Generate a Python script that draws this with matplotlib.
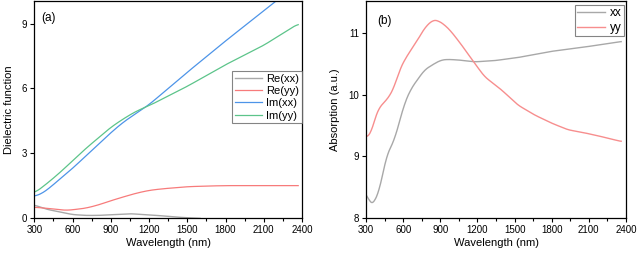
import matplotlib
matplotlib.use("Agg")
import matplotlib.pyplot as plt
import numpy as np

plt.rcParams['font.family'] = ['Liberation Sans', 'DejaVu Sans']

# Panel (a): dielectric function
wl_a = [300, 400, 500, 600, 700, 800, 900, 1000, 1050, 1100, 1200, 1300, 1400, 1500, 1560, 1600]
re_xx = [0.6, 0.4, 0.28, 0.16, 0.12, 0.12, 0.15, 0.18, 0.2, 0.18, 0.15, 0.1, 0.05, 0.01, 0.0, -0.02]

wl_ryy = [300, 400, 550, 700, 800, 900, 1000, 1100, 1200, 1300, 1400, 1500, 1650, 1800, 2100, 2370]
re_yy = [0.5, 0.45, 0.35, 0.45, 0.6, 0.8, 0.98, 1.15, 1.28, 1.35, 1.4, 1.45, 1.48, 1.5, 1.5, 1.5]

wl_im = [300, 350, 400, 500, 600, 700, 800, 900, 1000, 1100, 1200, 1500, 1800, 2100, 2400]
im_xx = [1.0, 1.1, 1.3, 1.8, 2.3, 2.85, 3.4, 3.95, 4.45, 4.85, 5.25, 6.75, 8.2, 9.6, 11.0]
wl_imyy = [300, 400, 500, 600, 700, 800, 900, 1000, 1100, 1200, 1500, 1800, 2100, 2370]
im_yy = [1.15, 1.6, 2.1, 2.65, 3.2, 3.7, 4.2, 4.6, 4.95, 5.2, 6.1, 7.1, 8.0, 9.0]

# Panel (b): absorption
wl_bxx = [300, 320, 335, 360, 408, 462, 529, 610, 664, 772, 850, 907, 961, 1050, 1176, 1338, 1527, 1796, 2066, 2362]
abs_xx = [8.43, 8.28, 8.2, 8.24, 8.45, 9.0, 9.27, 9.86, 10.1, 10.4, 10.5, 10.56, 10.57, 10.56, 10.53, 10.55, 10.6, 10.7, 10.77, 10.86]
wl_byy = [300, 320, 340, 367, 394, 435, 475, 529, 570, 610, 664, 718, 772, 839, 880, 934, 988, 1069, 1176, 1257, 1392, 1527, 1661, 1796, 1931, 2066, 2200, 2362]
abs_yy = [9.32, 9.32, 9.36, 9.6, 9.75, 9.86, 9.93, 10.13, 10.4, 10.56, 10.73, 10.89, 11.08, 11.21, 11.2, 11.13, 11.02, 10.81, 10.51, 10.29, 10.08, 9.83, 9.67, 9.54, 9.43, 9.38, 9.32, 9.24]

xticks = [300, 600, 900, 1200, 1500, 1800, 2100, 2400]


def smooth(x, y, n=400):
    xs = np.linspace(min(x), max(x), n)
    ys = np.interp(xs, x, y)
    k = 9
    pad = np.pad(ys, (k, k), mode='edge')
    ker = np.ones(2 * k + 1) / (2 * k + 1)
    ys = np.convolve(pad, ker, mode='valid')
    return xs, ys


fig = plt.figure(figsize=(6.38, 2.54), dpi=100)
ax1 = fig.add_axes([0.0538, 0.1417, 0.4196, 0.8543])
ax2 = fig.add_axes([0.574, 0.1417, 0.407, 0.8553])

c_gray = '#a8a8a8'
c_red = '#f77b7b'
c_blue = '#4d94e8'
c_green = '#5cc48a'
c_pink = '#f78e8e'

ax1.plot(*smooth(wl_a, re_xx), color=c_gray, lw=1.0, label='Re(xx)')
ax1.plot(*smooth(wl_ryy, re_yy), color=c_red, lw=0.9, label='Re(yy)')
ax1.plot(*smooth(wl_im, im_xx), color=c_blue, lw=0.9, label='Im(xx)')
ax1.plot(*smooth(wl_imyy, im_yy), color=c_green, lw=0.9, label='Im(yy)')
ax1.set_xlim(300, 2400)
ax1.set_ylim(0, 10.05)
ax1.set_yticks([0, 3, 6, 9])
ax1.set_xlabel('Wavelength (nm)', fontsize=8, labelpad=2)
ax1.set_ylabel('Dielectric function', fontsize=8, labelpad=6)
ax1.text(0.027, 0.92, '(a)', transform=ax1.transAxes, fontsize=8.5, va='center')
leg1 = ax1.legend(loc='upper right', bbox_to_anchor=(1.0, 0.677), borderaxespad=0,
                  fontsize=8, frameon=True, fancybox=False, handlelength=2.4,
                  handletextpad=0.4, labelspacing=0.2, borderpad=0.25)
leg1.get_frame().set_edgecolor('#666666')
leg1.get_frame().set_linewidth(0.8)

ax2.plot(*smooth(wl_bxx, abs_xx, 600), color=c_gray, lw=1.0, label='xx')
ax2.plot(*smooth(wl_byy, abs_yy, 600), color=c_pink, lw=1.0, label='yy')
ax2.set_xlim(300, 2400)
ax2.set_ylim(8, 11.52)
ax2.set_yticks([8, 9, 10, 11])
ax2.set_xlabel('Wavelength (nm)', fontsize=8, labelpad=2)
ax2.set_ylabel('Absorption (a.u.)', fontsize=8, labelpad=6)
ax2.text(0.043, 0.907, '(b)', transform=ax2.transAxes, fontsize=8.5, va='center')
leg2 = ax2.legend(loc='upper right', bbox_to_anchor=(0.993, 0.98), borderaxespad=0,
                  fontsize=8.5, frameon=True, fancybox=False, handlelength=2.4,
                  handletextpad=0.4, labelspacing=0.2, borderpad=0.2)
leg2.get_frame().set_edgecolor('#666666')
leg2.get_frame().set_linewidth(0.8)

for ax in (ax1, ax2):
    ax.set_xticks(xticks)
    ax.set_xticks(np.arange(450, 2400, 300), minor=True)
    ax.tick_params(axis='both', which='major', direction='out', length=3, width=0.8,
                   labelsize=7, pad=2)
    ax.tick_params(axis='x', which='minor', direction='out', length=2, width=0.8)
    for s in ax.spines.values():
        s.set_linewidth(0.9)

fig.savefig('out.png', dpi=100)
